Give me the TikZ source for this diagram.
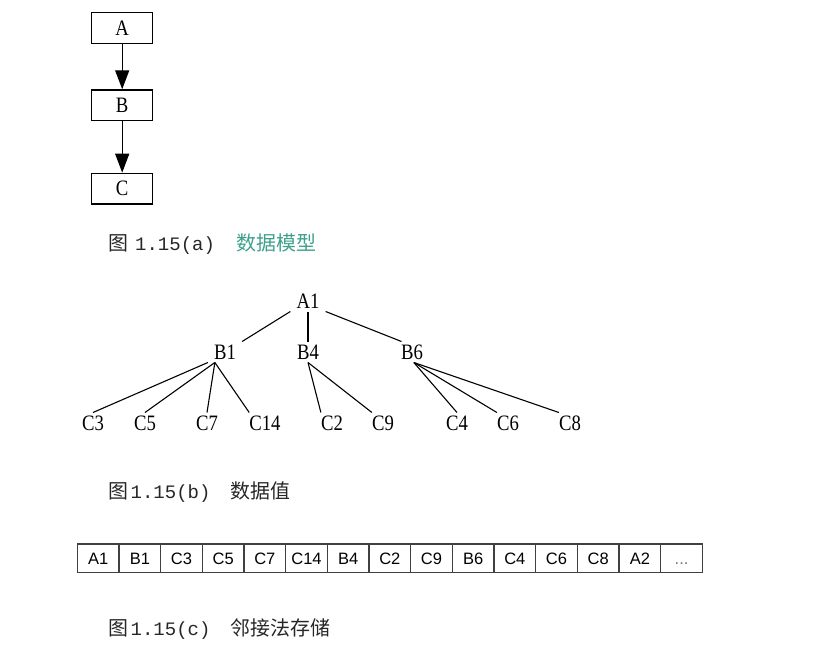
\documentclass[tikz,border=0pt]{standalone}
\usepackage{fontspec}
\usepackage{xcolor}
\usepackage{tikz}
\usetikzlibrary{arrows.meta}
\setmainfont{Liberation Serif}
\newfontfamily\cjk[Scale=1.05]{Noto Sans CJK SC}
\newfontfamily\capmono{Liberation Mono}
\newfontfamily\treefont[FakeStretch=0.85]{Liberation Serif}
\newfontfamily\cellfont{Liberation Sans}
\definecolor{modelgreen}{RGB}{60,160,140}
\newcommand{\moredots}{\textcolor{black!55}{...}}

\begin{document}
\begin{tikzpicture}[x=1pt, y=-1pt,
    box/.style={draw, line width=1.5pt, minimum width=61pt, minimum height=30.6pt, inner sep=0pt, font=\treefont\fontsize{22}{24}\selectfont},
    link/.style={line width=1.4pt, -{Triangle[length=19pt,width=14pt]}},
    treenode/.style={inner xsep=6pt, inner ysep=3pt, text height=14.6pt, text depth=0pt, font=\treefont\fontsize{22}{24}\selectfont},
    leafnode/.style={treenode, inner xsep=0pt},
    branch/.style={line width=1.1pt},
    cell/.style={draw=black!75, line width=1.2pt, minimum width=41.67pt, minimum height=28.7pt, inner sep=0pt, text height=11.7pt, text depth=0pt, font=\cellfont\fontsize{16.5}{18}\selectfont},
    figcap/.style={anchor=base west, inner sep=0pt, text=black!85, font=\capmono\fontsize{19}{22}\selectfont}
]
    \useasboundingbox (0,0) rectangle (828,653);

    % Data model
    \node[box] (A) at (122.2,28) {A};
    \node[box] (B) at (122.2,105.3) {B};
    \node[box] (C) at (122.2,188.7) {C};
    \draw[link] (A) -- (B);
    \draw[link] (B) -- (C);
    \node[figcap] (capA) at (108,250.5) {{\cjk 图}\hspace{7pt}1.15(a)\hspace{22pt}{\cjk\color{modelgreen}数据模型}};

    % Data values
    \node[treenode] (A1) at (308,301) {A1};
    \node[treenode] (B1) at (225,352) {B1};
    \node[treenode] (B4) at (308,352) {B4};
    \node[treenode] (B6) at (412,352) {B6};
    \foreach \name/\x in {C3/93, C5/145, C7/207, C14/265, C2/332, C9/383, C4/457, C6/508, C8/570}
        \node[leafnode] (\name) at (\x,423) {\name};

    \draw[branch] (A1.south west) -- (B1.north east);
    \draw[branch] (A1.south) -- (B4.north);
    \draw[branch] (A1.south east) -- (B6.135);
    \draw[branch] (B1.south west) -- (C3.north);
    \foreach \c/\a in {C5/north, C7/north, C14/north west}
        \draw[branch] (B1.-134) -- (\c.\a);
    \foreach \c in {C2, C9}
        \draw[branch] (B4.south) -- (\c.north west);
    \draw[branch] (B6.-80) -- (C4.north);
    \foreach \c in {C6, C8}
        \draw[branch] (B6.-80) -- (\c.north west);
    \node[figcap] (capB) at (108,498) {{\cjk 图}\hspace{2.5pt}1.15(b)\hspace{20pt}{\cjk 数据值}};

    % Adjacency storage
    \foreach [count=\i] \v in {A1,B1,C3,C5,C7,C14,B4,C2,C9,B6,C4,C6,C8,A2,\moredots}
        \node[cell] (cell\i) at (56.5+41.67*\i,558.3) {\v};
    \node[figcap] (capC) at (108,635.5) {{\cjk 图}\hspace{2.5pt}1.15(c)\hspace{20pt}{\cjk 邻接法存储}};
\end{tikzpicture}
\end{document}
